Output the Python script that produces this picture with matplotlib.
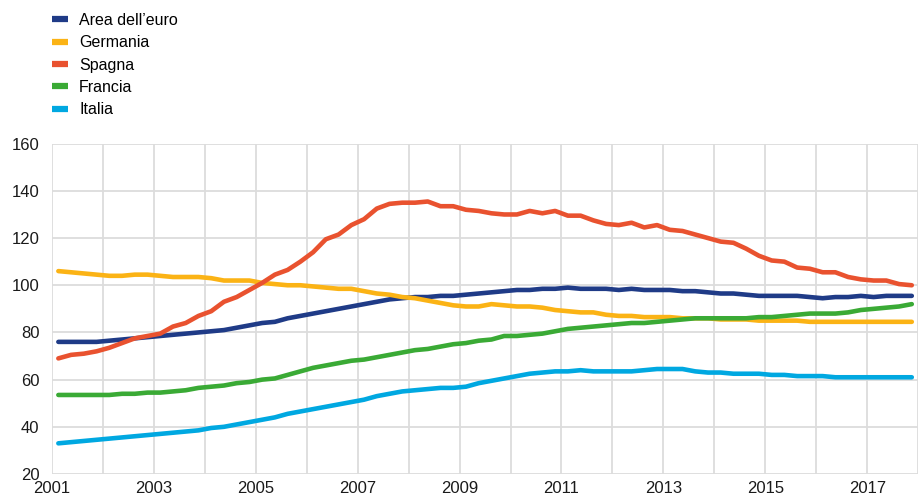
import matplotlib
matplotlib.use("Agg")
import matplotlib.pyplot as plt
import numpy as np

plt.rcParams['font.family'] = ['Liberation Sans', 'DejaVu Sans']

# quarterly series, 2001Q1 - 2017Q4
quarters = np.arange(2001, 2018, 0.25) + 0.125

area_euro = [76, 76, 76, 76, 76.5, 77, 77.5, 78, 78.5, 79, 79.5, 80,
             80.5, 81, 82, 83, 84, 84.5, 86, 87, 88, 89, 90, 91,
             92, 93, 94, 94.5, 95, 95, 95.5, 95.5, 96, 96.5, 97, 97.5,
             98, 98, 98.5, 98.5, 99, 98.5, 98.5, 98.5, 98, 98.5, 98, 98,
             98, 97.5, 97.5, 97, 96.5, 96.5, 96, 95.5, 95.5, 95.5, 95.5, 95,
             94.5, 95, 95, 95.5, 95, 95.5, 95.5, 95.5]
germania = [106, 105.5, 105, 104.5, 104, 104, 104.5, 104.5, 104, 103.5, 103.5, 103.5,
            103, 102, 102, 102, 101, 100.5, 100, 100, 99.5, 99, 98.5, 98.5,
            97.5, 96.5, 96, 95, 94.5, 93.5, 92.5, 91.5, 91, 91, 92, 91.5,
            91, 91, 90.5, 89.5, 89, 88.5, 88.5, 87.5, 87, 87, 86.5, 86.5,
            86.5, 86, 86, 86, 85.5, 85.5, 85.5, 85, 85, 85, 85, 84.5,
            84.5, 84.5, 84.5, 84.5, 84.5, 84.5, 84.5, 84.5]
spagna = [69, 70.5, 71, 72, 73.5, 75.5, 77.5, 78.5, 79.5, 82.5, 84, 87,
          89, 93, 95, 98, 101, 104.5, 106.5, 110, 114, 119.5, 121.5, 125.5,
          128, 132.5, 134.5, 135, 135, 135.5, 133.5, 133.5, 132, 131.5, 130.5, 130,
          130, 131.5, 130.5, 131.5, 129.5, 129.5, 127.5, 126, 125.5, 126.5, 124.5, 125.5,
          123.5, 123, 121.5, 120, 118.5, 118, 115.5, 112.5, 110.5, 110, 107.5, 107,
          105.5, 105.5, 103.5, 102.5, 102, 102, 100.5, 100]
francia = [53.5, 53.5, 53.5, 53.5, 53.5, 54, 54, 54.5, 54.5, 55, 55.5, 56.5,
           57, 57.5, 58.5, 59, 60, 60.5, 62, 63.5, 65, 66, 67, 68,
           68.5, 69.5, 70.5, 71.5, 72.5, 73, 74, 75, 75.5, 76.5, 77, 78.5,
           78.5, 79, 79.5, 80.5, 81.5, 82, 82.5, 83, 83.5, 84, 84, 84.5,
           85, 85.5, 86, 86, 86, 86, 86, 86.5, 86.5, 87, 87.5, 88,
           88, 88, 88.5, 89.5, 90, 90.5, 91, 92]
italia = [33, 33.5, 34, 34.5, 35, 35.5, 36, 36.5, 37, 37.5, 38, 38.5,
          39.5, 40, 41, 42, 43, 44, 45.5, 46.5, 47.5, 48.5, 49.5, 50.5,
          51.5, 53, 54, 55, 55.5, 56, 56.5, 56.5, 57, 58.5, 59.5, 60.5,
          61.5, 62.5, 63, 63.5, 63.5, 64, 63.5, 63.5, 63.5, 63.5, 64, 64.5,
          64.5, 64.5, 63.5, 63, 63, 62.5, 62.5, 62.5, 62, 62, 61.5, 61.5,
          61.5, 61, 61, 61, 61, 61, 61, 61]

series = [
    ("Area dell\u2019euro", area_euro, "#1f3b87"),
    ("Germania", germania, "#fbb315"),
    ("Spagna", spagna, "#e9522f"),
    ("Francia", francia, "#3aaa35"),
    ("Italia", italia, "#00a8e1"),
]

fig = plt.figure(figsize=(9.2, 5), dpi=100)
ax = fig.add_axes([0.0565, 0.052, 0.9415, 0.6606])

for label, values, color in series:
    ax.plot(quarters, values, color=color, lw=3.3, label=label,
            solid_capstyle='round', solid_joinstyle='round')

ax.set_xlim(2001, 2018)
ax.set_ylim(20, 160)
ax.set_yticks(np.arange(20, 161, 20))
ax.set_xticks(np.arange(2001, 2019, 1))
ax.set_xticklabels([str(y) if (y - 2001) % 2 == 0 else "" for y in range(2001, 2019)])

ax.grid(True, color="#dcdcdc", lw=1.3)
ax.set_axisbelow(True)
for s in ax.spines.values():
    s.set_visible(False)
ax.tick_params(length=0, labelsize=12, colors="#1a1a1a")
ax.tick_params(axis='y', pad=9)
ax.tick_params(axis='x', pad=5)

leg = fig.legend(loc="upper left", bbox_to_anchor=(52 / 920, 1 - 13 / 500), frameon=False,
                 fontsize=11.5, handlelength=1.0, handletextpad=0.7,
                 labelspacing=0.46, borderpad=0, borderaxespad=0)
for h in leg.get_lines():
    h.set_linewidth(4.5)
    h.set_solid_capstyle('butt')

fig.savefig("out.png", dpi=100)
